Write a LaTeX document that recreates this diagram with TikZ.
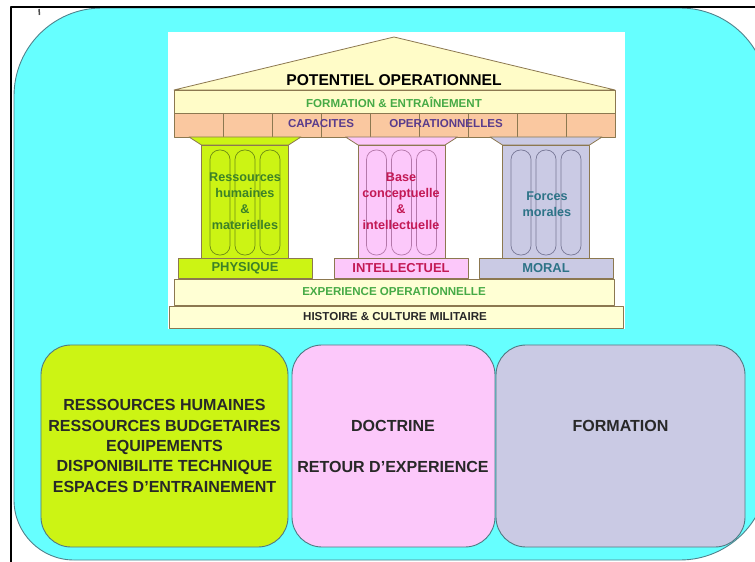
\documentclass[tikz,border=0pt]{standalone}
\usepackage{fontspec}
\setmainfont{Liberation Sans}
\definecolor{panelcyan}{RGB}{102,255,255}
\definecolor{paneledge}{RGB}{80,130,140}
\definecolor{pedfill}{RGB}{255,252,200}
\definecolor{bandfill}{RGB}{255,255,212}
\definecolor{peach}{RGB}{250,200,160}
\definecolor{templeline}{RGB}{140,120,80}
\definecolor{physfill}{RGB}{204,244,20}
\definecolor{intfill}{RGB}{252,200,250}
\definecolor{morfill}{RGB}{202,202,228}
\definecolor{physline}{RGB}{110,140,20}
\definecolor{intline}{RGB}{180,120,170}
\definecolor{morline}{RGB}{120,120,150}
\definecolor{greentxt}{RGB}{70,170,70}
\definecolor{phystxt}{RGB}{60,130,40}
\definecolor{inttxt}{RGB}{195,25,85}
\definecolor{mortxt}{RGB}{45,115,135}
\definecolor{captxt}{RGB}{90,60,140}
\definecolor{darktxt}{RGB}{40,40,40}
\definecolor{boxedge}{RGB}{80,120,130}
\tikzset{
  templeshape/.style={draw=templeline, line width=0.8pt},
  flute/.style={line width=0.7pt, rounded corners=9.5bp},
  titletext/.style={font=\bfseries\fontsize{15.7}{18}\selectfont, inner sep=0pt, text=black},
  bandtext/.style={font=\bfseries\fontsize{11.6}{13}\selectfont, inner sep=0pt},
  coltext/.style={font=\bfseries\fontsize{12.7}{16}\selectfont, align=center, inner sep=0pt},
  basetext/.style={font=\bfseries\fontsize{13}{15}\selectfont, inner sep=0pt},
  bigbox/.style={draw=boxedge, line width=0.9pt, rounded corners=30bp, inner sep=0pt},
  boxtext/.style={font=\bfseries\fontsize{16.1}{20.5}\selectfont, align=center, inner sep=0pt, text=darktxt},
}
\begin{document}
\begin{tikzpicture}[x=1bp, y=-1bp, line join=round]
\useasboundingbox (0,0) rectangle (755,562);
\clip (0,0) rectangle (755,562);
\fill[white] (0,0) rectangle (755,562);

% cyan rounded panel
\draw[fill=panelcyan, draw=paneledge, line width=0.9pt]
  (14,96) arc[start angle=180, end angle=270, radius=88]
  -- (680,8) arc[start angle=270, end angle=360, radius=88]
  -- (768,472) arc[start angle=0, end angle=90, radius=88]
  -- (74,560) arc[start angle=90, end angle=180, radius=60]
  -- cycle;

% black frame lines and small mark
\draw[line width=2pt] (11,562) -- (11,7) -- (755,7);
\draw[line width=1.5pt, gray!60!black] (39,9) -- (39.5,15);

% white panel behind the temple
\fill[white] (168,32) rectangle (625,329);

% pediment and entablature
\draw[templeshape, fill=pedfill] (174,90) -- (394,37) -- (615,90) -- cycle;
\draw[templeshape, fill=pedfill] (174,90) rectangle (615,113);
\draw[templeshape, fill=peach] (174,113) rectangle (615,137);
\foreach \k in {1,...,8} \draw[templeshape] (174+49.1*\k,113) -- ++(0,24);

\node[titletext] (potentiel) at (394,80) {POTENTIEL OPERATIONNEL};
\node[bandtext, text=greentxt] (formband) at (394,102) {FORMATION \& ENTRAÎNEMENT};
\node[bandtext, text=captxt] (capa) at (321,124) {CAPACITES};
\node[bandtext, text=captxt] (opera) at (446,124) {OPERATIONNELLES};

% three columns
\foreach \c/\fc/\lc in {245/physfill/physline, 401.5/intfill/intline, 546/morfill/morline}{
  \draw[templeshape, fill=\fc] (\c-56,137) -- (\c+56,137) -- (\c+43.5,145) -- (\c-43.5,145) -- cycle;
  \draw[templeshape, fill=\fc] (\c-43.5,145) rectangle (\c+43.5,258);
  \foreach \o in {-25,0,25}
    \draw[flute, draw=\lc] (\c+\o-10,150) rectangle (\c+\o+10,255);
  \draw[templeshape, fill=\fc] (\c-67,258) rectangle (\c+67,278);
}

\node[coltext, text=phystxt] (rh) at (245,201) {Ressources\\humaines\\\&\\materielles};
\node[coltext, text=inttxt] (bc) at (401,201) {Base\\conceptuelle\\\&\\intellectuelle};
\node[coltext, text=mortxt] (fm) at (547,204) {Forces\\morales};

\node[basetext, text=phystxt] (phys) at (245,268) {PHYSIQUE};
\node[basetext, text=inttxt] (intel) at (401,268) {INTELLECTUEL};
\node[basetext, text=mortxt] (moral) at (546,268) {MORAL};

% foundations
\draw[templeshape, fill=bandfill] (174,279) rectangle (614,305);
\node[bandtext, text=greentxt] (expop) at (394,292) {EXPERIENCE OPERATIONNELLE};
\draw[templeshape, fill=bandfill] (169,306) rectangle (623,328);
\node[bandtext, text=darktxt] (hist) at (395,317) {HISTOIRE \& CULTURE MILITAIRE};

% lower boxes
\node[bigbox, fill=physfill, minimum width=247bp, minimum height=202bp] (box1) at (164.5,446) {};
\node[bigbox, fill=intfill, minimum width=203bp, minimum height=202bp] (box2) at (393.5,446) {};
\node[bigbox, fill=morfill, minimum width=249bp, minimum height=202bp] (box3) at (620.5,446) {};

\node[boxtext] (t1) at (box1.center) {RESSOURCES HUMAINES\\RESSOURCES BUDGETAIRES\\EQUIPEMENTS\\DISPONIBILITE TECHNIQUE\\ESPACES D’ENTRAINEMENT};
\node[boxtext] (t2a) at (393,426) {DOCTRINE};
\node[boxtext] (t2b) at (393,467) {RETOUR D’EXPERIENCE};
\node[boxtext] (t3) at (620.5,426) {FORMATION};
\end{tikzpicture}
\end{document}
